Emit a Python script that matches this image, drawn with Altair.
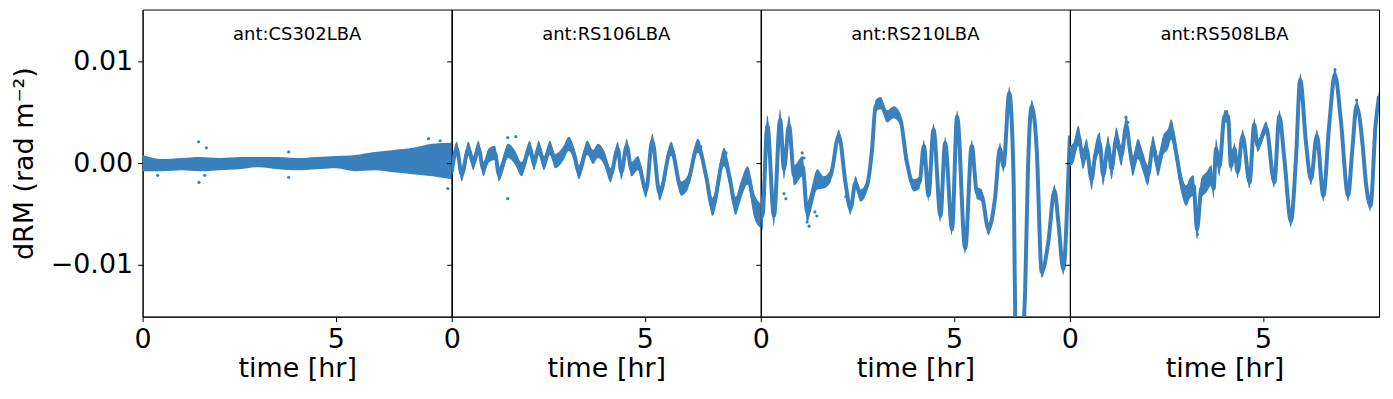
import altair as alt
import pandas as pd

COLOR = "#3a80bd"
FONT = "DejaVu Sans"

names = ["ant:CS302LBA", "ant:RS106LBA", "ant:RS210LBA", "ant:RS508LBA"]

# ---- ant:CS302LBA : time [hr], dRM centre, half-width of scatter band
t_cs302 = [0.0, 0.5, 1.0, 1.5, 2.0, 2.5, 3.0, 3.5, 4.0, 4.5, 5.0, 5.5, 6.0, 6.5, 7.0, 7.5, 8.0]
v_cs302 = [0.0, -0.0002, -0.0001, -0.0001, -0.0001, 0.0, 0.0001, 0.0, -0.0001, 0.0, 0.0001, 0.0,
           0.0002, 0.0002, 0.0002, 0.0003, 0.0002]
w_cs302 = [0.0008, 0.0006, 0.0006, 0.0007, 0.0006, 0.0006, 0.0005, 0.0006, 0.0006, 0.0006, 0.0006,
           0.0008, 0.0009, 0.0011, 0.0013, 0.0016, 0.0018]
ot_cs302 = [1.45, 1.65, 1.46, 1.61, 0.39, 3.78, 3.78, 7.4, 7.7, 7.9]
ov_cs302 = [0.0021, 0.0015, -0.0019, -0.0012, -0.0012, 0.0011, -0.0014, 0.0024, 0.0022, -0.0025]

# ---- ant:RS106LBA
t_rs106 = [0.0, 0.13, 0.26, 0.43, 0.56, 0.69, 0.82, 0.95, 1.12, 1.22, 1.46, 1.63, 1.81, 2.02, 2.13,
           2.25, 2.39, 2.54, 2.68, 2.88, 3.03, 3.18, 3.29, 3.51, 3.66, 3.78, 3.96, 4.11, 4.30, 4.39,
           4.53, 4.65, 4.82, 5.03, 5.19, 5.38, 5.68, 5.94, 6.11, 6.37, 6.58, 6.75, 7.05, 7.18, 7.35,
           7.48, 7.66, 7.83, 8.0]
v_rs106 = [-0.0009, 0.0014, -0.0011, 0.0014, 0.0, 0.0015, -0.0006, 0.0007, 0.0010, -0.0011, 0.0012,
           0.0006, -0.0006, 0.0015, 0.0, 0.0015, 0.0, 0.0015, 0.0002, 0.0009, 0.0019, 0.0007, -0.0009,
           0.0015, 0.0006, 0.0012, 0.0004, -0.0012, 0.0014, -0.0009, 0.0017, -0.0006, 0.0, -0.0027,
           0.0022, -0.0030, 0.0014, -0.0025, -0.0019, 0.0017, -0.0012, -0.0043, 0.0006, -0.0012,
           -0.0042, -0.0027, -0.0012, -0.0042, -0.0052]
w_rs106 = [0.0009] + [0.0007] * 40 + [0.0009] * 6 + [0.0012] * 2
ot_rs106 = [1.45, 1.45, 1.66, 6.45, 7.1]
ov_rs106 = [-0.0035, 0.0025, 0.0026, 0.0016, 0.0010]

# ---- ant:RS210LBA
t_rs210 = [0.0, 0.04, 0.17, 0.34, 0.50, 0.60, 0.73, 0.86, 1.08, 1.20, 1.29, 1.46, 1.63, 1.81, 2.02,
           2.19, 2.32, 2.45, 2.58, 2.75, 2.88, 2.97, 3.10, 3.27, 3.44, 3.61, 3.78, 3.96, 4.11, 4.22,
           4.34, 4.47, 4.65, 4.77, 4.95, 5.08, 5.29, 5.46, 5.59, 5.72, 5.89, 6.06, 6.19, 6.28, 6.43,
           6.54, 6.60, 6.70, 6.84, 6.91, 7.01, 7.14, 7.27, 7.44, 7.60, 7.70, 7.83, 7.96, 8.0]
v_rs210 = [-0.0035, -0.0052, 0.0037, -0.0052, 0.0043, -0.0006, 0.0037, -0.0012, -0.0003, -0.0048,
           -0.0038, -0.0016, -0.0019, -0.0012, 0.0027, -0.0019, -0.0045, -0.0019, -0.0032, -0.0022,
           0.0014, 0.0056, 0.0059, 0.0046, 0.0050, 0.0043, 0.0001, -0.0022, -0.0019, 0.0017, -0.0032,
           0.0033, -0.0052, 0.0020, -0.0065, 0.0046, -0.0084, 0.0017, -0.0029, -0.0032, -0.0065,
           -0.0035, 0.0014, -0.0003, 0.0069, -0.0012, -0.0180, -0.0200, -0.0127, -0.0012, 0.0056,
           0.0014, -0.0107, -0.0078, -0.0027, -0.0058, -0.0104, -0.0012, 0.0027]
w_rs210 = [0.0016, 0.0014] + [0.0010] * 10 + [0.0006] * 47
ot_rs210 = [1.07, 1.12, 1.2, 1.25, 1.4, 1.45, 0.6, 0.65, 2.2, 3.75]
ov_rs210 = [0.0010, 0.0005, -0.0058, -0.0062, -0.0048, -0.0052, -0.0030, -0.0035, -0.0033, 0.0004]

# ---- ant:RS508LBA
t_rs508 = [0.0, 0.09, 0.22, 0.34, 0.43, 0.56, 0.65, 0.77, 0.86, 0.99, 1.08, 1.20, 1.33, 1.46, 1.55,
           1.63, 1.76, 1.89, 2.02, 2.15, 2.28, 2.41, 2.54, 2.62, 2.75, 2.88, 3.01, 3.10, 3.20, 3.29,
           3.40, 3.53, 3.66, 3.72, 3.78, 3.87, 4.0, 4.09, 4.17, 4.26, 4.34, 4.47, 4.65, 4.77, 4.86,
           5.08, 5.29, 5.42, 5.55, 5.72, 5.85, 5.96, 6.11, 6.24, 6.39, 6.56, 6.71, 6.86, 7.01, 7.20,
           7.31, 7.42, 7.57, 7.66, 7.78, 7.91, 8.0]
v_rs508 = [0.0007, 0.0010, 0.0027, 0.0004, 0.0014, -0.0016, 0.0007, 0.0020, -0.0012, 0.0017, -0.0006,
           0.0025, 0.0007, 0.0037, 0.0014, -0.0003, 0.0014, 0.0001, -0.0012, 0.0017, -0.0003, 0.0017,
           0.0024, 0.0033, 0.0010, -0.0019, -0.0032, -0.0025, -0.0022, -0.0065, -0.0025, -0.0019,
           -0.0012, -0.0025, 0.0014, -0.0003, 0.0046, 0.0046, -0.0003, 0.0014, -0.0009, 0.0027, -0.0019,
           0.0038, 0.0017, 0.0035, -0.0019, 0.0046, 0.0004, -0.0057, 0.0004, 0.0082, 0.0020, -0.0016,
           0.0027, -0.0032, 0.0037, 0.0087, 0.0043, -0.0032, 0.0014, 0.0056, 0.0020, -0.0019, -0.0042,
           0.0037, 0.0066]
w_rs508 = [0.0010] * 36 + [0.0006] * 31
ot_rs508 = [1.45, 1.5, 3.3, 6.86, 7.42]
ov_rs508 = [0.0045, 0.0040, -0.0070, 0.0092, 0.0062]

Y_DOMAIN = [-0.0151, 0.0151]
Y_TICKS = [-0.01, 0.0, 0.01]
X_TICKS = [0, 5]


def panel(name, t, v, w, ot, ov, first):
    df = pd.DataFrame({"t": t, "v": v, "w": w})
    x = alt.X("t:Q", scale=alt.Scale(domain=[0, 8], nice=False, zero=False),
              axis=alt.Axis(values=X_TICKS, format="d", title="time [hr]", labelFlush=False))
    if first:
        yaxis = alt.Axis(values=Y_TICKS, format=".2f", title="dRM (rad m⁻²)",
                         labelExpr="replace(datum.label, '-', '\u2212')")
    else:
        yaxis = alt.Axis(values=Y_TICKS, labels=False, title=None)
    yscale = alt.Scale(domain=Y_DOMAIN, nice=False, zero=False)
    base = alt.Chart(df).transform_calculate(lo="datum.v - datum.w", hi="datum.v + datum.w")
    band = base.mark_area(color=COLOR, opacity=1, interpolate="monotone", clip=True).encode(
        x=x, y=alt.Y("lo:Q", scale=yscale, axis=yaxis), y2="hi:Q")
    line = base.mark_line(color=COLOR, strokeWidth=4, interpolate="monotone", clip=True).encode(
        x=x, y=alt.Y("v:Q", scale=yscale, axis=yaxis))
    odf = pd.DataFrame({"t": ot, "v": ov})
    pts = alt.Chart(odf).mark_circle(size=10, color=COLOR, opacity=1, clip=True).encode(
        x=x, y=alt.Y("v:Q", scale=yscale, axis=yaxis))
    label = alt.Chart(pd.DataFrame({"name": [name]})).mark_text(
        font=FONT, fontSize=18, color="black", align="center", baseline="alphabetic").encode(
        x=alt.value(155), y=alt.value(31), text="name:N")
    return alt.layer(band, line, pts, label).properties(width=310, height=308)


panels = [
    panel(names[0], t_cs302, v_cs302, w_cs302, ot_cs302, ov_cs302, True),
    panel(names[1], t_rs106, v_rs106, w_rs106, ot_rs106, ov_rs106, False),
    panel(names[2], t_rs210, v_rs210, w_rs210, ot_rs210, ov_rs210, False),
    panel(names[3], t_rs508, v_rs508, w_rs508, ot_rs508, ov_rs508, False),
]

chart = alt.hconcat(*panels, spacing=0, bounds="flush").properties(
    padding={"left": 1, "top": 0, "right": 5, "bottom": 5}
).configure_view(stroke="black", strokeWidth=1).configure_axis(
    grid=False, domainColor="black", tickColor="black", labelColor="black", titleColor="black",
    labelFont=FONT, titleFont=FONT, labelFontSize=27, titleFontSize=27, titleFontWeight="normal",
    tickSize=5, labelPadding=5, domainWidth=1, tickWidth=1
).configure_axisY(titlePadding=12).configure_axisX(titlePadding=3)

chart.save("out.html", embed_options={"renderer": "svg", "actions": False})
